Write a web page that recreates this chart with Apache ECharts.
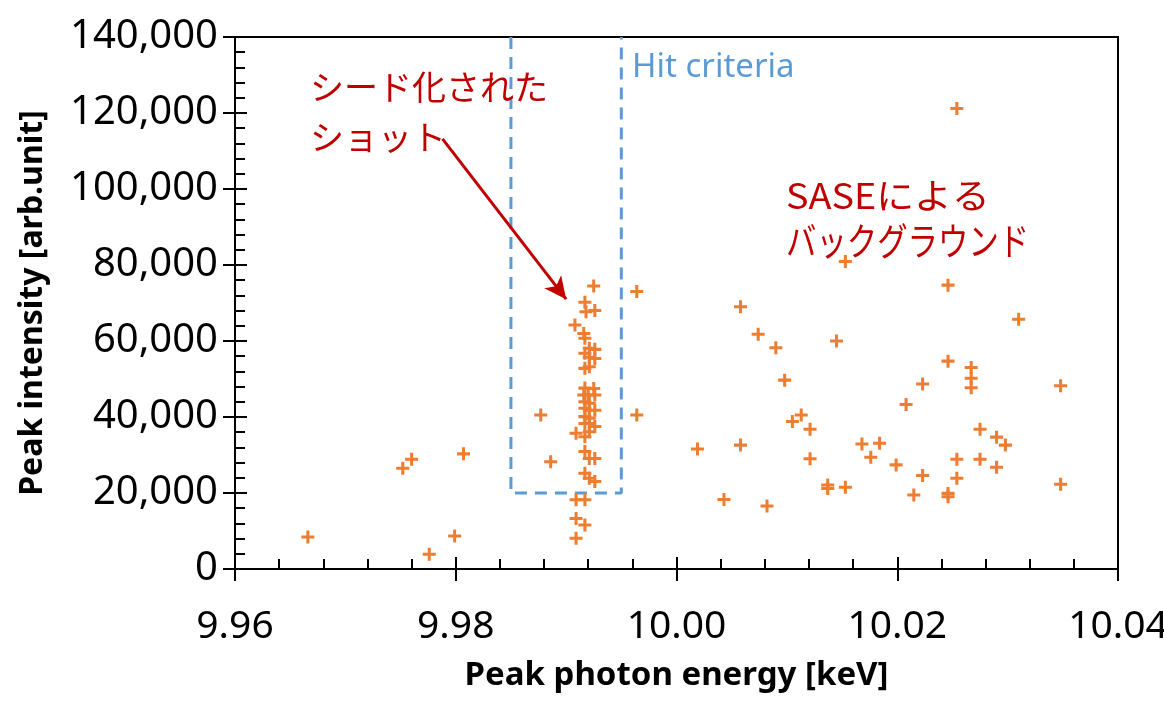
<!DOCTYPE html>
<html>
<head>
<meta charset="utf-8">
<title>Peak photon energy vs peak intensity</title>
<script src="https://cdn.jsdelivr.net/npm/echarts@6/dist/echarts.min.js"></script>
<style>
  html, body { margin: 0; padding: 0; background: #ffffff; }
  #chart { width: 1164px; height: 702px; }
</style>
</head>
<body>
<div id="chart"></div>
<script>
// Peak photon energy [keV] of each shot
const energy = [
  9.9666, 9.9752, 9.9760, 9.9776, 9.9799, 9.9807, 9.9877, 9.9886,
  9.9925, 9.9917, 9.9918, 9.9926, 9.9908, 9.9916, 9.9917, 9.9921, 9.9926,
  9.9917, 9.9921, 9.9926, 9.9917, 9.9921, 9.9917, 9.9925, 9.9916, 9.9920,
  9.9926, 9.9917, 9.9921, 9.9917, 9.9921, 9.9926, 9.9917, 9.9921, 9.9917,
  9.9921, 9.9926, 9.9909, 9.9917, 9.9921, 9.9917, 9.9921, 9.9926, 9.9917,
  9.9921, 9.9926, 9.9909, 9.9917, 9.9909, 9.9917, 9.9909,
  9.9964, 9.9964,
  10.0019, 10.0043, 10.0058, 10.0058, 10.0074, 10.0082, 10.0090, 10.0098,
  10.0105, 10.0113, 10.0121, 10.0121, 10.0137, 10.0137, 10.0145, 10.0153,
  10.0153, 10.0168, 10.0176, 10.0184, 10.0199, 10.0208, 10.0215, 10.0223,
  10.0223, 10.0246, 10.0246, 10.0246, 10.0246, 10.0254, 10.0254, 10.0254,
  10.0267, 10.0267, 10.0267, 10.0275, 10.0275, 10.0290, 10.0290, 10.0298,
  10.0310, 10.0348, 10.0348
];
// Peak intensity [arb.unit] of each shot
const intensity = [
  8400, 26500, 28900, 3900, 8700, 30300, 40500, 28200,
  74500, 70200, 67700, 68000, 64200, 62000, 60700, 58100, 57800,
  56800, 55700, 55400, 52800, 53200, 47600, 47500, 45800, 45800,
  45800, 44000, 43600, 42300, 41800, 41800, 40100, 39700, 38300,
  38300, 37500, 35700, 34800, 36100, 30900, 29100, 29100, 25200,
  23900, 23000, 18200, 18200, 13300, 11600, 8100,
  73000, 40500,
  31600, 18300, 69000, 32600, 61800, 16600, 58200, 49700,
  38800, 40500, 36800, 29000, 22100, 21200, 60000, 21500,
  80900, 32900, 29400, 33100, 27400, 43300, 19500, 48700,
  24600, 74700, 54700, 19900, 19000, 121200, 28900, 23900,
  53000, 50200, 47700, 36800, 28900, 34700, 26800, 32600,
  65700, 48200, 22300
];

// Hit criteria window (dashed box)
const hitEnergy = [9.985, 9.985, 9.995, 9.995];
const hitIntensity = [140000, 20000, 20000, 140000];

// Annotation arrow: from the label to the seeded shots
const arrowFrom = [9.9788, 113200];
const arrowTo = [9.9900, 71000];

const xTicks = { min: 9.96, max: 10.04, interval: 0.02 };
const yTicks = { min: 0, max: 140000, interval: 20000 };

const ORANGE = '#ED7D31';
const BLUE = '#5B9BD5';
const RED = '#C00000';
const LABEL_FONT = "'Noto Sans', 'DejaVu Sans', sans-serif";
const JP_FONT = "'Noto Sans CJK JP', 'Noto Sans', sans-serif";

const plus = 'path://M4.6,0H7.4V4.6H12V7.4H7.4V12H4.6V7.4H0V4.6H4.6Z';

const points = energy.map((e, i) => [e, intensity[i]]);
const hitBox = hitEnergy.map((e, i) => [e, hitIntensity[i]]);

const withCommas = v => String(Math.round(v)).replace(/\B(?=(\d{3})+(?!\d))/g, ',');

const chart = echarts.init(document.getElementById('chart'), null, { renderer: 'canvas' });

const axisLineStyle = { color: '#000', width: 2 };

chart.setOption({
  backgroundColor: '#ffffff',
  animation: false,
  grid: {
    left: 235, right: 46, top: 37, bottom: 133,
    containLabel: false,
    outerBoundsMode: 'none',
    show: true, borderColor: '#000', borderWidth: 2, backgroundColor: 'transparent'
  },
  xAxis: [
    {
      type: 'value', ...xTicks,
      name: 'Peak photon energy [keV]',
      nameLocation: 'middle', nameGap: 90,
      nameTextStyle: { fontFamily: LABEL_FONT, fontWeight: 'bold', fontSize: 33, color: '#000' },
      axisLine: { show: true, onZero: false, lineStyle: axisLineStyle },
      axisTick: { show: true, inside: true, length: 12, lineStyle: axisLineStyle },
      minorTick: { show: true, splitNumber: 5, length: 10, lineStyle: axisLineStyle },
      axisLabel: {
        margin: 38, fontFamily: LABEL_FONT, fontSize: 39, color: '#000',
        formatter: v => v.toFixed(2)
      },
      splitLine: { show: false },
      minorSplitLine: { show: false }
    },
    {
      type: 'value', ...xTicks, position: 'bottom',
      axisLine: { show: false },
      axisTick: { show: true, inside: false, length: 12, lineStyle: axisLineStyle },
      axisLabel: { show: false },
      splitLine: { show: false }
    }
  ],
  yAxis: [
    {
      type: 'value', ...yTicks,
      name: 'Peak intensity [arb.unit]',
      nameLocation: 'middle', nameGap: 186, nameRotate: 90,
      nameTextStyle: { fontFamily: LABEL_FONT, fontWeight: 'bold', fontSize: 32, color: '#000' },
      axisLine: { show: true, onZero: false, lineStyle: axisLineStyle },
      axisTick: { show: true, inside: true, length: 12, lineStyle: axisLineStyle },
      minorTick: { show: true, splitNumber: 5, length: 10, lineStyle: axisLineStyle },
      axisLabel: {
        margin: 17, fontFamily: LABEL_FONT, fontSize: 40, color: '#000',
        formatter: withCommas
      },
      splitLine: { show: false },
      minorSplitLine: { show: false }
    },
    {
      type: 'value', ...yTicks, position: 'left',
      axisLine: { show: false },
      axisTick: { show: true, inside: false, length: 12, lineStyle: axisLineStyle },
      axisLabel: { show: false },
      splitLine: { show: false }
    }
  ],
  series: [
    {
      name: 'Hit criteria',
      type: 'line',
      data: hitBox,
      symbol: 'none',
      silent: true,
      z: 2,
      lineStyle: { color: BLUE, width: 3, type: [12, 8] }
    },
    {
      name: 'Shots',
      type: 'scatter',
      data: points,
      symbol: plus,
      symbolSize: 13,
      itemStyle: { color: ORANGE, opacity: 1 },
      z: 3,
      markLine: {
        silent: true,
        symbol: ['none', 'arrow'],
        symbolSize: [16, 22],
        lineStyle: { color: RED, width: 3, type: 'solid' },
        label: { show: false },
        data: [[{ coord: arrowFrom }, { coord: arrowTo }]]
      }
    }
  ],
  graphic: [
    {
      type: 'text', left: 632, top: 51, z: 10,
      style: { text: 'Hit criteria', fill: BLUE, font: "33px " + LABEL_FONT }
    },
    {
      type: 'text', left: 310, top: 62, z: 10,
      style: { text: 'シード化された\nショット', fill: RED, font: "34px " + JP_FONT, lineHeight: 50 }
    },
    {
      type: 'text', x: 786, y: 178, scaleX: 1.08, z: 10,
      style: { text: 'SASEによる', fill: RED, font: "35px " + JP_FONT }
    },
    {
      type: 'text', x: 786, y: 222, scaleX: 0.8, z: 10,
      style: { text: 'バックグラウンド', fill: RED, font: "38px " + JP_FONT }
    }
  ]
});
</script>
</body>
</html>
